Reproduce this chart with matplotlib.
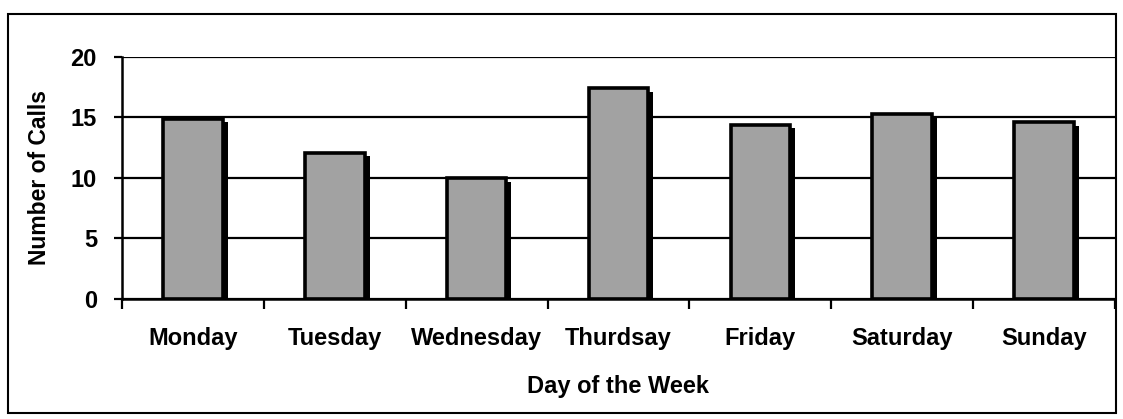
import matplotlib
matplotlib.use("Agg")
import matplotlib.pyplot as plt
import numpy as np
from matplotlib.patches import Rectangle

# data
days = ["Monday", "Tuesday", "Wednesday", "Thurdsay", "Friday", "Saturday", "Sunday"]
calls = [14.9, 12.1, 10.0, 17.4, 14.4, 15.3, 14.6]
y_ticks = [0, 5, 10, 15, 20]

plt.rcParams['font.family'] = ['Liberation Sans', 'DejaVu Sans']
plt.rcParams['font.weight'] = 'bold'

fig = plt.figure(figsize=(11.23, 4.19), dpi=100)
ax = fig.add_axes([0.1086, 0.2864, 0.8843, 0.5776])

x = np.arange(len(days))
width = 0.42

# black drop shadow behind each bar
ax.bar(x + 0.035, np.array(calls) - 0.3, width=width, color='black', zorder=2)
# main bars
ax.bar(x, calls, width=width, color='#a2a2a2', edgecolor='black', linewidth=2.6, zorder=3)

ax.set_ylim(0, 20)
ax.set_xlim(-0.5, len(days) - 0.5)
ax.set_yticks(y_ticks)
ax.yaxis.grid(True, color='black', linewidth=1.6, zorder=1)
ax.set_axisbelow(True)

# ticks at category boundaries, labels at centres
ax.set_xticks(np.arange(len(days) + 1) - 0.5)
ax.set_xticklabels([])
ax.set_xticks(x, minor=True)
ax.set_xticklabels(days, minor=True, fontsize=17, fontweight='bold')
ax.tick_params(axis='x', which='major', direction='out', length=7, width=1.6)
ax.tick_params(axis='x', which='minor', length=0, pad=20)
ax.tick_params(axis='y', direction='out', length=6, width=1.6, labelsize=17, pad=12)
for lab in ax.get_yticklabels():
    lab.set_fontweight('bold')

for s in ['top', 'right']:
    ax.spines[s].set_visible(False)
for s in ['left', 'bottom']:
    ax.spines[s].set_linewidth(1.8)

ax.set_xlabel("Day of the Week", fontsize=17, fontweight='bold', labelpad=18)
ax.set_ylabel("Number of Calls", fontsize=16.5, fontweight='bold', labelpad=14)

# outer frame around the chart
fig.patches.append(Rectangle((0.007, 0.014), 0.987, 0.952, transform=fig.transFigure,
                             fill=False, edgecolor='black', linewidth=1.5))

fig.savefig("out.png", dpi=100)
